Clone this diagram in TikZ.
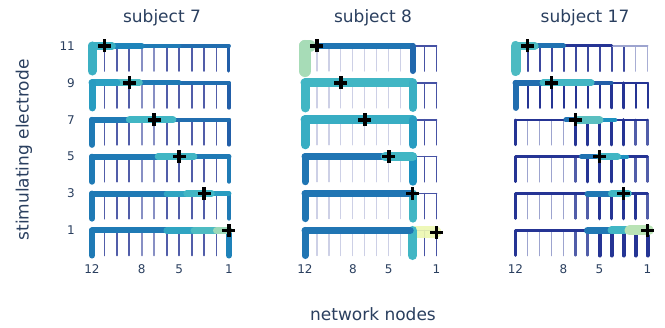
\documentclass[tikz,border=0pt]{standalone}
\usepackage{fontspec}
\setmainfont{DejaVu Sans}
\definecolor{txt}{HTML}{2A3F5F}
\definecolor{c1}{HTML}{253494}
\definecolor{c2}{HTML}{225EA8}
\definecolor{c3}{HTML}{1D91C0}
\definecolor{c4}{HTML}{41B6C4}
\definecolor{c5}{HTML}{7FCDBB}
\definecolor{c6}{HTML}{C7E9B4}
\definecolor{c7}{HTML}{EDF8B1}
\definecolor{cl}{HTML}{CDD0E6}
\colorlet{cb}{c3!55!c2}
\newcommand\btooth[4]{\draw[line width=#3pt, draw=#4] ({#1},{#2}) -- ({#1},{#2+0.678});}
\newcommand\bseg[5]{\draw[line width=#4pt, draw=#5] ({#1},{#3}) -- ({#2},{#3});}
\newcommand\bcross[2]{\draw[line width=3.6pt, draw=black, line cap=butt] ({#1},{#2}) ++(-6.5pt,0) -- ++(13pt,0) ({#1},{#2}) ++(0,-6.5pt) -- ++(0,13pt);}
\begin{document}
\begin{tikzpicture}[x=1pt,y=-1pt,line cap=round,
  ttl/.style={text=txt,inner sep=0pt,font=\fontsize{17}{20}\selectfont},
  tick/.style={text=txt,inner sep=0pt,font=\fontsize{12}{14}\selectfont}]
\useasboundingbox[fill=white] (0,0) rectangle (665,328);

% ---------------- labels
\node[ttl,anchor=base] (t7) at (162,23) {subject 7};
\node[ttl,anchor=base] (t8) at (373,23) {subject 8};
\node[ttl,anchor=base] (t17) at (585,23) {subject 17};
\node[ttl,anchor=base] (xl) at (373,321) {network nodes};
\node[ttl,rotate=90] (yl) at (24,150) {stimulating electrode};
\foreach \e/\r in {11/0,9/1,7/2,5/3,3/4,1/5}
  \node[tick,anchor=east] (y\e) at (75,{46+36.9*\r}) {\e};
\foreach \px/\dx/\k in {92/12.45/a,305/11.96/b,515.5/12/c}
  \foreach \n in {12,8,5,1}
    \node[tick,anchor=base] (x\k\n) at ({\px+(12-\n)*\dx},273.5) {\n};

% ---------------- subject 7
\begin{scope}[shift={(92,46)},x=12.45pt,y=-36.9pt]
\foreach \r in {0,...,5}{
  \foreach \p in {1,2,3,6,7,8,9,10} {\btooth{\p}{\r}{1.8}{c1!80}}
  \foreach \p in {4,5} {\btooth{\p}{\r}{1.6}{c1!55}}
}
% row 0
\btooth{11}{0}{3}{c2}
\bseg{7}{11}{0}{4}{c2!70!c3}
\bseg{4}{7}{0}{4.5}{cb}
\bseg{1.2}{4}{0}{5.5}{c3!75!c2}
\bseg{0}{1.6}{0}{8}{c4!85!c3}
\btooth{0}{0}{9}{c4!85!c3}
% row 1
\btooth{11}{1}{3.5}{c2}
\bseg{7}{11}{1}{4}{c2!70!c3}
\bseg{3.5}{7}{1}{5}{cb}
\bseg{2}{3.8}{1}{7}{c4!80!c5}
\bseg{0}{2}{1}{7}{c3!60!c4}
\btooth{0}{1}{7}{c3!70!c4}
% row 2
\btooth{11}{2}{3.5}{c2}
\bseg{6}{11}{2}{4.5}{c2!70!c3}
\bseg{0}{3.5}{2}{6}{cb}
\bseg{3}{6.5}{2}{7}{c4}
\btooth{0}{2}{6}{cb}
% row 3
\btooth{11}{3}{4}{cb}
\bseg{8}{11}{3}{5}{cb}
\bseg{0}{5.5}{3}{6}{cb}
\bseg{5.3}{8.2}{3}{6.5}{c4}
\btooth{0}{3}{6}{cb}
% row 4
\btooth{11}{4}{4}{cb}
\bseg{9.5}{11}{4}{5}{c3!70!c4}
\bseg{0}{6.5}{4}{6}{cb}
\bseg{6}{7.8}{4}{6}{c3!50!c4}
\bseg{7.6}{9.6}{4}{6.5}{c4}
\btooth{0}{4}{6}{cb}
% row 5
\btooth{11}{5}{6}{c3!70!c2}
\bseg{0}{6.5}{5}{6}{cb}
\bseg{6}{8.5}{5}{6.5}{c3!50!c4}
\bseg{8.2}{10.2}{5}{7}{c4!80!c5}
\bseg{10}{11}{5}{7}{c5!60!c6}
\btooth{0}{5}{6}{cb}
\foreach \r in {0,...,5} {\bcross{{1+2*\r}}{\r}}
\end{scope}

% ---------------- subject 8
\begin{scope}[shift={(305,46)},x=11.96pt,y=-36.9pt]
\foreach \r in {0,...,5}{
  \foreach \p in {1,...,8} {\btooth{\p}{\r}{1.2}{cl}}
  \btooth{10}{\r}{1.6}{c1!85}
  \btooth{11}{\r}{1.6}{c1!85}
  \bseg{9}{11}{\r}{1.5}{c1!85}
}
% row 0
\bseg{0}{9}{0}{6}{c2!55!c3}
\btooth{9}{0}{6}{c2!80!c3}
\btooth{0}{0}{12}{c5!45!c6}
\bseg{0}{0.4}{0}{12}{c5!45!c6}
% row 1
\bseg{0}{9}{1}{9}{c4}
\btooth{9}{1}{8}{c4!80!c3}
\btooth{0}{1}{9}{c4}
% row 2
\bseg{0}{9}{2}{9}{c4!75!c3}
\btooth{9}{2}{8}{c3!70!c4}
\btooth{0}{2}{9}{c4!75!c3}
% row 3
\btooth{9}{3}{8}{c3}
\bseg{0}{6.7}{3}{7}{c3!45!c2}
\bseg{6.7}{9}{3}{9}{c4}
\btooth{0}{3}{7}{c3!45!c2}
% row 4
\btooth{9}{4}{8}{c4}
\bseg{0}{8.8}{4}{7}{c3!45!c2}
\btooth{0}{4}{7}{c3!45!c2}
% row 5
\draw[line width=12pt, draw=c7, opacity=0.9] (9.3,5.05) -- (10.9,5.05);
\btooth{9}{5}{9}{c4}
\bseg{0}{8.8}{5}{7}{c3!45!c2}
\btooth{0}{5}{7}{c3!45!c2}
\foreach \r in {0,...,4} {\bcross{{1+2*\r}}{\r}}
\bcross{11}{5.05}
\end{scope}

% ---------------- subject 17
\begin{scope}[shift={(515.5,46)},x=12pt,y=-36.9pt]
% row 0
\foreach \p in {1,...,9} {\btooth{\p}{0}{2}{c1!90}}
\btooth{10}{0}{1.5}{c1!40}
\btooth{11}{0}{1.5}{c1!40}
\bseg{8}{11}{0}{2}{c1!45}
\bseg{4}{8}{0}{3}{c1}
\bseg{1.5}{4}{0}{5}{c2!60!c3}
\bseg{0}{1.6}{0}{8}{c4!80!c5}
\btooth{0}{0}{10}{c4!80!c5}
% row 1
\foreach \p in {1,...,11} {\btooth{\p}{1}{2}{c1}}
\btooth{8}{1}{3}{c1}
\btooth{9}{1}{3}{c1}
\bseg{8}{11}{1}{2.5}{c1}
\bseg{6}{8}{1}{4}{c2}
\bseg{0}{2.4}{1}{6}{c2!70!c3}
\bseg{2.3}{6.3}{1}{7}{c4}
\btooth{0}{1}{6}{c2!70!c3}
% rows 2-5 thin combs
\foreach \r in {2,...,5}{
  \foreach \p in {1,...,4} {\btooth{\p}{\r}{1.6}{c1!45}}
  \foreach \p in {5,...,11} {\btooth{\p}{\r}{2.2}{c1!80}}
  \btooth{0}{\r}{2.5}{c1}
  \bseg{0}{11}{\r}{2.5}{c1}
}
% row 2
\foreach \p in {5,...,9} {\btooth{\p}{2}{3.2}{c1}}
\bseg{4.2}{5.3}{2}{5}{c2!60!c3}
\bseg{7}{8.3}{2}{4.5}{c3}
\bseg{5.2}{7}{2}{8}{c4!60!c5}
% row 3
\foreach \p in {6,...,9} {\btooth{\p}{3}{3.5}{c1}}
\bseg{5.5}{7.1}{3}{5}{c2!60!c3}
\bseg{8.4}{9.3}{3}{4}{c3}
\bseg{7}{8.5}{3}{7}{c4}
% row 4
\foreach \p in {7,...,10} {\btooth{\p}{4}{3.5}{c1}}
\bseg{6}{8.1}{4}{6}{c2!50!c3}
\bseg{8}{9.4}{4}{7}{c4}
% row 5
\foreach \p in {7,...,11} {\btooth{\p}{5}{4}{c1}}
\bseg{6}{8.1}{5}{7}{c2!50!c3}
\bseg{8}{9.6}{5}{8}{c4}
\bseg{9.5}{11.1}{5}{10}{c6!80!c5}
\foreach \r in {0,...,5} {\bcross{{1+2*\r}}{\r}}
\end{scope}
\end{tikzpicture}
\end{document}
